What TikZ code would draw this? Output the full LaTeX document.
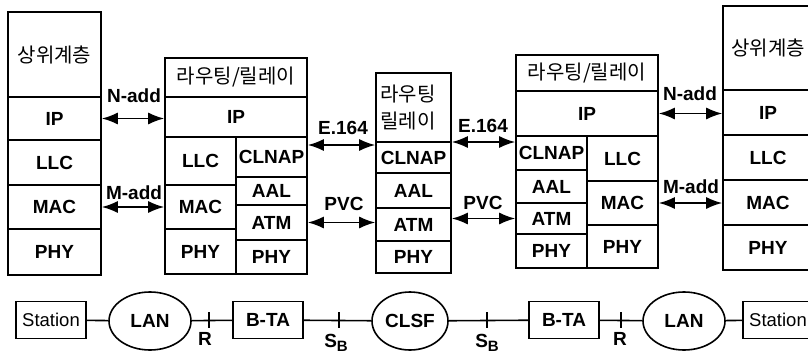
\documentclass[tikz,border=0pt]{standalone}
\usepackage{fontspec}
\setmainfont{Liberation Sans}
\newfontfamily\kr{Noto Sans CJK KR}
\usetikzlibrary{arrows.meta,shapes.geometric,calc}
\newcommand\cellbox[7]{%
  \pgfmathsetmacro\mycw{#5-#3}%
  \pgfmathsetmacro\mych{#6-#4}%
  \pgfmathsetmacro\mycx{(#3+#5)/2}%
  \pgfmathsetmacro\mycy{(#4+#6)/2}%
  \node[#1,minimum width=\mycw pt,minimum height=\mych pt] (#2) at (\mycx,\mycy) {#7};}
\tikzset{
  cell/.style={draw,line width=1.6pt,inner sep=0pt,font=\bfseries\fontsize{19}{21}\selectfont},
  krcell/.style={cell,font=\kr\fontsize{20}{22}\selectfont},
  biarrow/.style={line width=1.6pt,{Latex[length=16pt,width=12pt]}-{Latex[length=16pt,width=12pt]}},
  lbl/.style={inner sep=0pt,font=\bfseries\fontsize{19}{21}\selectfont},
  link/.style={line width=1.6pt},
  bbox/.style={draw,line width=1.6pt,inner sep=0pt,minimum width=70pt,font=\bfseries\fontsize{19}{21}\selectfont},
  stbox/.style={draw,line width=1.6pt,inner sep=0pt,minimum width=70pt,minimum height=37pt,font=\fontsize{18.5}{21}\selectfont},
  oval/.style={ellipse,draw,line width=1.6pt,inner sep=0pt,minimum height=58pt,font=\bfseries\fontsize{19}{21}\selectfont},
}
\begin{document}
\begin{tikzpicture}[x=1pt,y=-1pt]
\useasboundingbox (0,0) rectangle (808,356);
% left end stack
\cellbox{krcell}{atop}{8}{12}{101}{97}{상위계층}
\cellbox{cell}{aip}{8}{97}{101}{140}{IP}
\cellbox{cell}{allc}{8}{140}{101}{185}{LLC}
\cellbox{cell}{amac}{8}{185}{101}{229}{MAC}
\cellbox{cell}{aphy}{8}{229}{101}{275}{PHY}
% router 1
\cellbox{krcell}{btop}{165}{58}{307}{97}{라우팅/릴레이}
\cellbox{cell}{bip}{165}{97}{307}{137}{IP}
\cellbox{cell}{bllc}{165}{137}{236}{185}{LLC}
\cellbox{cell}{bmac}{165}{185}{236}{229}{MAC}
\cellbox{cell}{bphya}{165}{229}{236}{274}{PHY}
\cellbox{cell}{bcl}{236}{137}{307}{177}{CLNAP}
\cellbox{cell}{baal}{236}{177}{307}{205}{AAL}
\cellbox{cell}{batm}{236}{205}{307}{240}{ATM}
\cellbox{cell}{bphyb}{236}{240}{307}{274}{PHY}
% CLSF stack
\cellbox{cell}{ctop}{376}{73}{451}{142}{}
\node[anchor=west,align=left,inner sep=0pt,font=\kr\fontsize{20}{27}\selectfont] (ctxt) at (380,108) {라우팅\\릴레이};
\cellbox{cell}{ccl}{376}{142}{451}{173}{CLNAP}
\cellbox{cell}{caal}{376}{173}{451}{208}{AAL}
\cellbox{cell}{catm}{376}{208}{451}{241}{ATM}
\cellbox{cell}{cphy}{376}{241}{451}{273}{PHY}
% router 2
\cellbox{krcell}{dtop}{516}{55}{658}{91}{라우팅/릴레이}
\cellbox{cell}{dip}{516}{91}{658}{136}{IP}
\cellbox{cell}{dcl}{516}{136}{587}{170}{CLNAP}
\cellbox{cell}{daal}{516}{170}{587}{203}{AAL}
\cellbox{cell}{datm}{516}{203}{587}{234}{ATM}
\cellbox{cell}{dphya}{516}{234}{587}{268}{PHY}
\cellbox{cell}{dllc}{587}{136}{658}{181}{LLC}
\cellbox{cell}{dmac}{587}{181}{658}{225}{MAC}
\cellbox{cell}{dphyb}{587}{225}{658}{268}{PHY}
% right end stack
\cellbox{krcell}{etop}{723}{6}{813}{90}{상위계층}
\cellbox{cell}{eip}{723}{90}{813}{135}{IP}
\cellbox{cell}{ellc}{723}{135}{813}{180}{LLC}
\cellbox{cell}{emac}{723}{180}{813}{225}{MAC}
\cellbox{cell}{ephy}{723}{225}{813}{270}{PHY}
% arrows
\coordinate (ye1) at (0,145);
\coordinate (ye2) at (0,142);
\draw[biarrow] (aip.east) -- (aip.east -| bip.west);
\draw[biarrow] (amac.east) -- (amac.east -| bmac.west);
\draw[biarrow] (bcl.east |- ye1) -- (ccl.west |- ye1);
\draw[biarrow] (batm.east) -- (batm.east -| catm.west);
\draw[biarrow] (ccl.east |- ye2) -- (dcl.west |- ye2);
\draw[biarrow] (datm.west) -- (datm.west -| catm.east);
\draw[biarrow] (dip.east) -- (dip.east -| eip.west);
\draw[biarrow] (dmac.east) -- (dmac.east -| emac.west);
\node[lbl] (l1) at (134,96) {N-add};
\node[lbl] (l2) at (134,193) {M-add};
\node[lbl] (l3) at (343,128) {E.164};
\node[lbl] (l4) at (344,204) {PVC};
\node[lbl] (l5) at (483,126) {E.164};
\node[lbl] (l6) at (483,203) {PVC};
\node[lbl] (l7) at (690,94) {N-add};
\node[lbl] (l8) at (691,187) {M-add};
% bottom row
\node[stbox] (st1) at (51,320) {Station};
\node[oval,minimum width=82pt] (lan1) at (150,321) {LAN};
\node[bbox,minimum height=37pt] (bta1) at (268,320) {B-TA};
\node[oval,minimum width=76pt] (clsf) at (410,321) {CLSF};
\node[bbox,minimum height=37pt] (bta2) at (564,320) {B-TA};
\node[oval,minimum width=82pt] (lan2) at (684,321) {LAN};
\node[stbox] (st2) at (778,320) {Station};
\draw[link] (st1) -- (lan1) -- (bta1) -- (clsf) -- (bta2) -- (lan2) -- (st2);
\coordinate (r1) at (209,320);
\coordinate (sb1) at (339,320);
\coordinate (sb2) at (487,320);
\coordinate (r2) at (621,320);
\foreach \t in {r1,sb1,sb2,r2} \draw[link] (\t) ++(0,-8) -- ++(0,16);
\node[lbl] (lr1) at (205,339) {R};
\node[lbl] (lsb1) at (336,343) {S\raisebox{-4pt}{\fontsize{15}{15}\selectfont B}};
\node[lbl] (lsb2) at (487,343) {S\raisebox{-4pt}{\fontsize{15}{15}\selectfont B}};
\node[lbl] (lr2) at (620,339) {R};
\end{tikzpicture}
\end{document}
